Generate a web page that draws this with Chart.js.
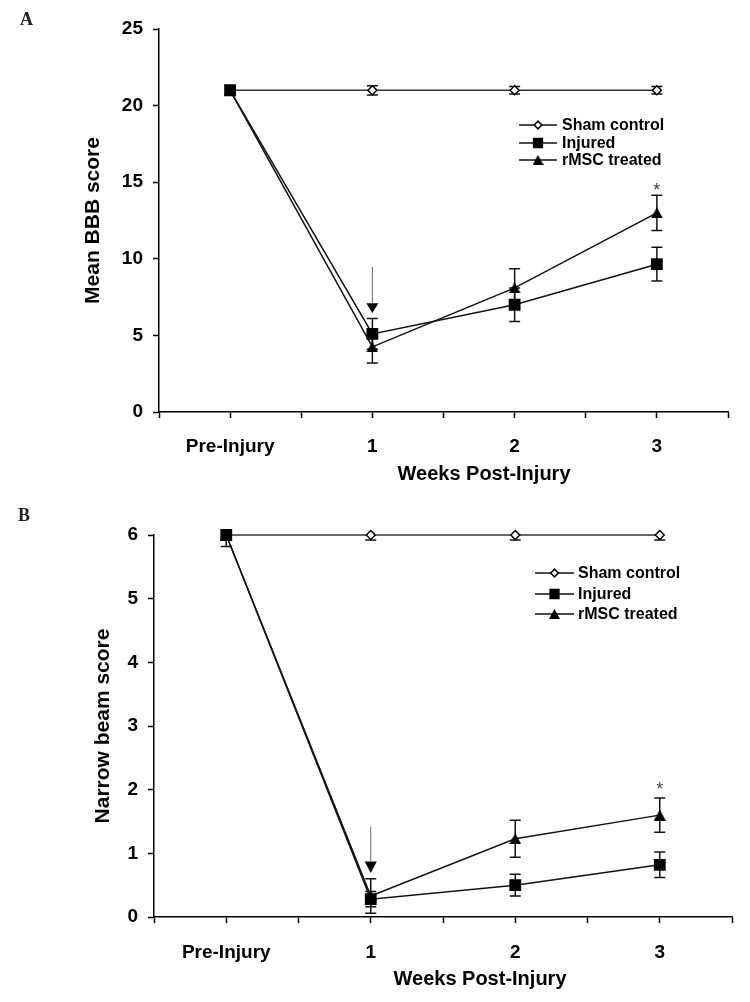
<!DOCTYPE html>
<html lang="en">
<head>
<meta charset="UTF-8">
<title>BBB and narrow beam scores after injury</title>
<script src="https://cdn.jsdelivr.net/npm/chart.js"></script>
<style>
  body { margin: 0; background: #fff; }
  .panel { position: relative; width: 750px; }
  canvas { display: block; }
  .tag {
    position: absolute;
    font: bold 18px "Liberation Serif", "DejaVu Serif", serif;
    line-height: 18px;
    color: #222;
  }
</style>
</head>
<body>

<div class="panel">
  <span class="tag" style="left:20px; top:10px;">A</span>
  <canvas id="chartA" width="750" height="500"></canvas>
</div>
<div class="panel">
  <span class="tag" style="left:18px; top:6px;">B</span>
  <canvas id="chartB" width="750" height="502"></canvas>
</div>

<script>
// x positions (0 = pre-injury, then weeks) and their labels
const weeks = [0, 1, 2, 3];
const categories = ['Pre-Injury', '1', '2', '3'];
const seriesNames = ['Sham control', 'Injured', 'rMSC treated'];

// panel A: BBB score
const bbbSham = [21, 21, 21, 21];
const bbbShamErr = [0.3, 0.3, 0.25, 0.25];
const bbbInjured = [21, 5.1, 7.0, 9.65];
const bbbInjuredErr = [0, 1.0, 1.1, 1.1];
const bbbRmsc = [21, 4.25, 8.1, 13.0];
const bbbRmscErr = [0, 1.05, 1.25, 1.15];
const bbbTicks = [0, 5, 10, 15, 20, 25];

// panel B: narrow beam score
const beamSham = [6, 6, 6, 6];
const beamShamErr = [0.08, 0.08, 0.08, 0.08];
const beamInjured = [6, 0.28, 0.5, 0.82];
const beamInjuredErr = [0, 0.12, 0.17, 0.2];
const beamRmsc = [6, 0.33, 1.23, 1.6];
const beamRmscErr = [0.18, 0.27, 0.29, 0.27];
const beamTicks = [0, 1, 2, 3, 4, 5, 6];

// arrow at week 1: [line top, head base, tip]; asterisk at week 3
const bbbArrow = [9.46, 7.1, 6.46];
const bbbStar = 14.45;
const beamArrow = [1.42, 0.87, 0.69];
const beamStar = 1.99;

const FONT = '"Liberation Sans", Arial, sans-serif';

// excel-like triangle, centred on its bounding box
function triangleMarker(w, h) {
  const c = document.createElement('canvas');
  c.width = w; c.height = h;
  const g = c.getContext('2d');
  g.fillStyle = '#000';
  g.beginPath();
  g.moveTo(w / 2, 0); g.lineTo(w, h); g.lineTo(0, h);
  g.closePath();
  g.fill();
  return c;
}
const tri = triangleMarker(12, 11);
const triSmall = triangleMarker(11, 10);

const styles = [
  { pointStyle: 'rectRot', radius: 4.5, fill: '#fff', line: '#333', order: 2 },
  { pointStyle: 'rect', radius: 7.3, fill: '#000', line: '#111', order: 0 },
  { pointStyle: tri, radius: 6, fill: '#000', line: '#111', order: 1 }
];

const errorBars = {
  id: 'errorBars',
  beforeDatasetsDraw(chart, args, opts) {
    const { ctx, chartArea: a } = chart;
    const xs = chart.scales.x, ys = chart.scales.y;
    ctx.save();
    ctx.beginPath();
    ctx.rect(a.left, a.top, a.right - a.left, a.bottom - a.top);
    ctx.clip();
    ctx.strokeStyle = '#111';
    ctx.lineWidth = 1.5;
    chart.data.datasets.forEach((ds, i) => {
      const err = opts.errors[i];
      ds.data.forEach((p, j) => {
        if (!err[j]) return;
        const x = xs.getPixelForValue(p.x);
        const y1 = ys.getPixelForValue(p.y + err[j]);
        const y2 = ys.getPixelForValue(p.y - err[j]);
        ctx.beginPath();
        ctx.moveTo(x, y1); ctx.lineTo(x, y2);
        ctx.moveTo(x - 5.5, y1); ctx.lineTo(x + 5.5, y1);
        ctx.moveTo(x - 5.5, y2); ctx.lineTo(x + 5.5, y2);
        ctx.stroke();
      });
    });
    ctx.restore();
  }
};

const extras = {
  id: 'extras',
  afterDraw(chart, args, opts) {
    const { ctx } = chart;
    const xs = chart.scales.x, ys = chart.scales.y;
    ctx.save();

    // arrow at week 1
    const ax = xs.getPixelForValue(1);
    const [top, base, tip] = opts.arrow.map(v => ys.getPixelForValue(v));
    ctx.strokeStyle = '#666';
    ctx.lineWidth = 1;
    ctx.beginPath();
    ctx.moveTo(ax, top); ctx.lineTo(ax, base);
    ctx.stroke();
    ctx.fillStyle = '#000';
    ctx.beginPath();
    ctx.moveTo(ax - 6, base); ctx.lineTo(ax + 6, base); ctx.lineTo(ax, tip);
    ctx.closePath();
    ctx.fill();

    // asterisk
    ctx.font = '18px ' + FONT;
    ctx.fillStyle = '#444';
    ctx.textAlign = 'center';
    ctx.textBaseline = 'middle';
    ctx.fillText('*', xs.getPixelForValue(3), ys.getPixelForValue(opts.star));

    // x axis title
    ctx.font = 'bold 20px ' + FONT;
    ctx.fillStyle = '#000';
    ctx.fillText('Weeks Post-Injury', opts.xTitle[0], opts.xTitle[1]);

    // legend
    const L = opts.legend;
    ctx.font = 'bold 16px ' + FONT;
    ctx.textAlign = 'left';
    chart.data.datasets.forEach((ds, i) => {
      const y = L.rows[i];
      ctx.strokeStyle = '#111';
      ctx.lineWidth = 1.5;
      ctx.beginPath();
      ctx.moveTo(L.x, y); ctx.lineTo(L.x + L.len, y);
      ctx.stroke();
      ctx.fillStyle = styles[i].fill;
      ctx.strokeStyle = '#000';
      Chart.helpers.drawPoint(ctx, {
        pointStyle: i === 2 ? triSmall : styles[i].pointStyle,
        radius: styles[i].radius * 0.85,
        rotation: 0,
        borderWidth: 1.5
      }, L.x + L.len / 2, y);
      ctx.fillStyle = '#000';
      ctx.fillText(seriesNames[i], L.textX, y + 1);
    });
    ctx.restore();
  }
};

function makePanel(id, o) {
  const values = [o.sham, o.injured, o.rmsc];
  const datasets = values.map((vals, i) => ({
    label: seriesNames[i],
    data: weeks.map((w, j) => ({ x: w, y: vals[j] })),
    borderColor: styles[i].line,
    borderWidth: 1.5,
    pointStyle: styles[i].pointStyle,
    pointRadius: styles[i].radius,
    pointBackgroundColor: styles[i].fill,
    pointBorderColor: '#000',
    pointBorderWidth: 1.5,
    tension: 0,
    clip: false,
    order: styles[i].order
  }));

  const canvas = document.getElementById(id);
  const H = canvas.height;
  const a = o.area;

  new Chart(canvas.getContext('2d'), {
    type: 'line',
    data: { datasets },
    plugins: [errorBars, extras],
    options: {
      responsive: false,
      animation: false,
      events: [],
      layout: { padding: { left: 0, right: 750 - a.right, top: a.top, bottom: 0 } },
      plugins: {
        legend: { display: false },
        tooltip: { enabled: false },
        errorBars: { errors: [o.shamErr, o.injuredErr, o.rmscErr] },
        extras: { arrow: o.arrow, star: o.star, xTitle: o.xTitle, legend: o.legend }
      },
      scales: {
        x: {
          type: 'linear',
          min: -0.5,
          max: 3.5,
          afterFit(s) { s.height = H - a.bottom; },
          afterBuildTicks(s) {
            s.ticks = [];
            for (let v = -0.5; v <= 3.5; v += 0.5) s.ticks.push({ value: v });
          },
          ticks: {
            autoSkip: false,
            maxRotation: 0,
            padding: o.xPad,
            color: '#000',
            font: { family: FONT, size: 19, weight: 'bold' },
            callback: v => Number.isInteger(v) ? categories[v] : ''
          },
          grid: {
            drawOnChartArea: false,
            drawTicks: true,
            tickLength: 6,
            tickWidth: 1.5,
            tickColor: '#000'
          },
          border: { color: '#000', width: 1.5 }
        },
        y: {
          min: o.yTicks[0],
          max: o.yTicks[o.yTicks.length - 1],
          afterFit(s) { s.width = a.left; },
          afterBuildTicks(s) { s.ticks = o.yTicks.map(v => ({ value: v })); },
          ticks: {
            padding: 10,
            color: '#000',
            font: { family: FONT, size: 19, weight: 'bold' }
          },
          grid: {
            drawOnChartArea: false,
            drawTicks: true,
            tickLength: 6,
            tickWidth: 1.5,
            tickColor: '#000'
          },
          border: { color: '#000', width: 1.5 },
          title: {
            display: true,
            text: o.yTitle,
            color: '#000',
            font: { family: FONT, size: 21, weight: 'bold' },
            padding: { top: o.yTitleX - 12, bottom: 0 }
          }
        }
      }
    }
  });
}

makePanel('chartA', {
  sham: bbbSham, shamErr: bbbShamErr,
  injured: bbbInjured, injuredErr: bbbInjuredErr,
  rmsc: bbbRmsc, rmscErr: bbbRmscErr,
  yTicks: bbbTicks,
  yTitle: 'Mean BBB score',
  yTitleX: 93,
  area: { left: 159, right: 728, top: 29, bottom: 412 },
  xPad: 17,
  xTitle: [484, 474],
  arrow: bbbArrow,
  star: bbbStar,
  legend: { x: 519, len: 38, textX: 562, rows: [125, 143, 160] }
});

makePanel('chartB', {
  sham: beamSham, shamErr: beamShamErr,
  injured: beamInjured, injuredErr: beamInjuredErr,
  rmsc: beamRmsc, rmscErr: beamRmscErr,
  yTicks: beamTicks,
  yTitle: 'Narrow beam score',
  yTitleX: 103,
  area: { left: 154, right: 734, top: 35, bottom: 417 },
  xPad: 18,
  xTitle: [480, 479],
  arrow: beamArrow,
  star: beamStar,
  legend: { x: 535, len: 39, textX: 578, rows: [73, 94, 114] }
});
</script>

</body>
</html>
